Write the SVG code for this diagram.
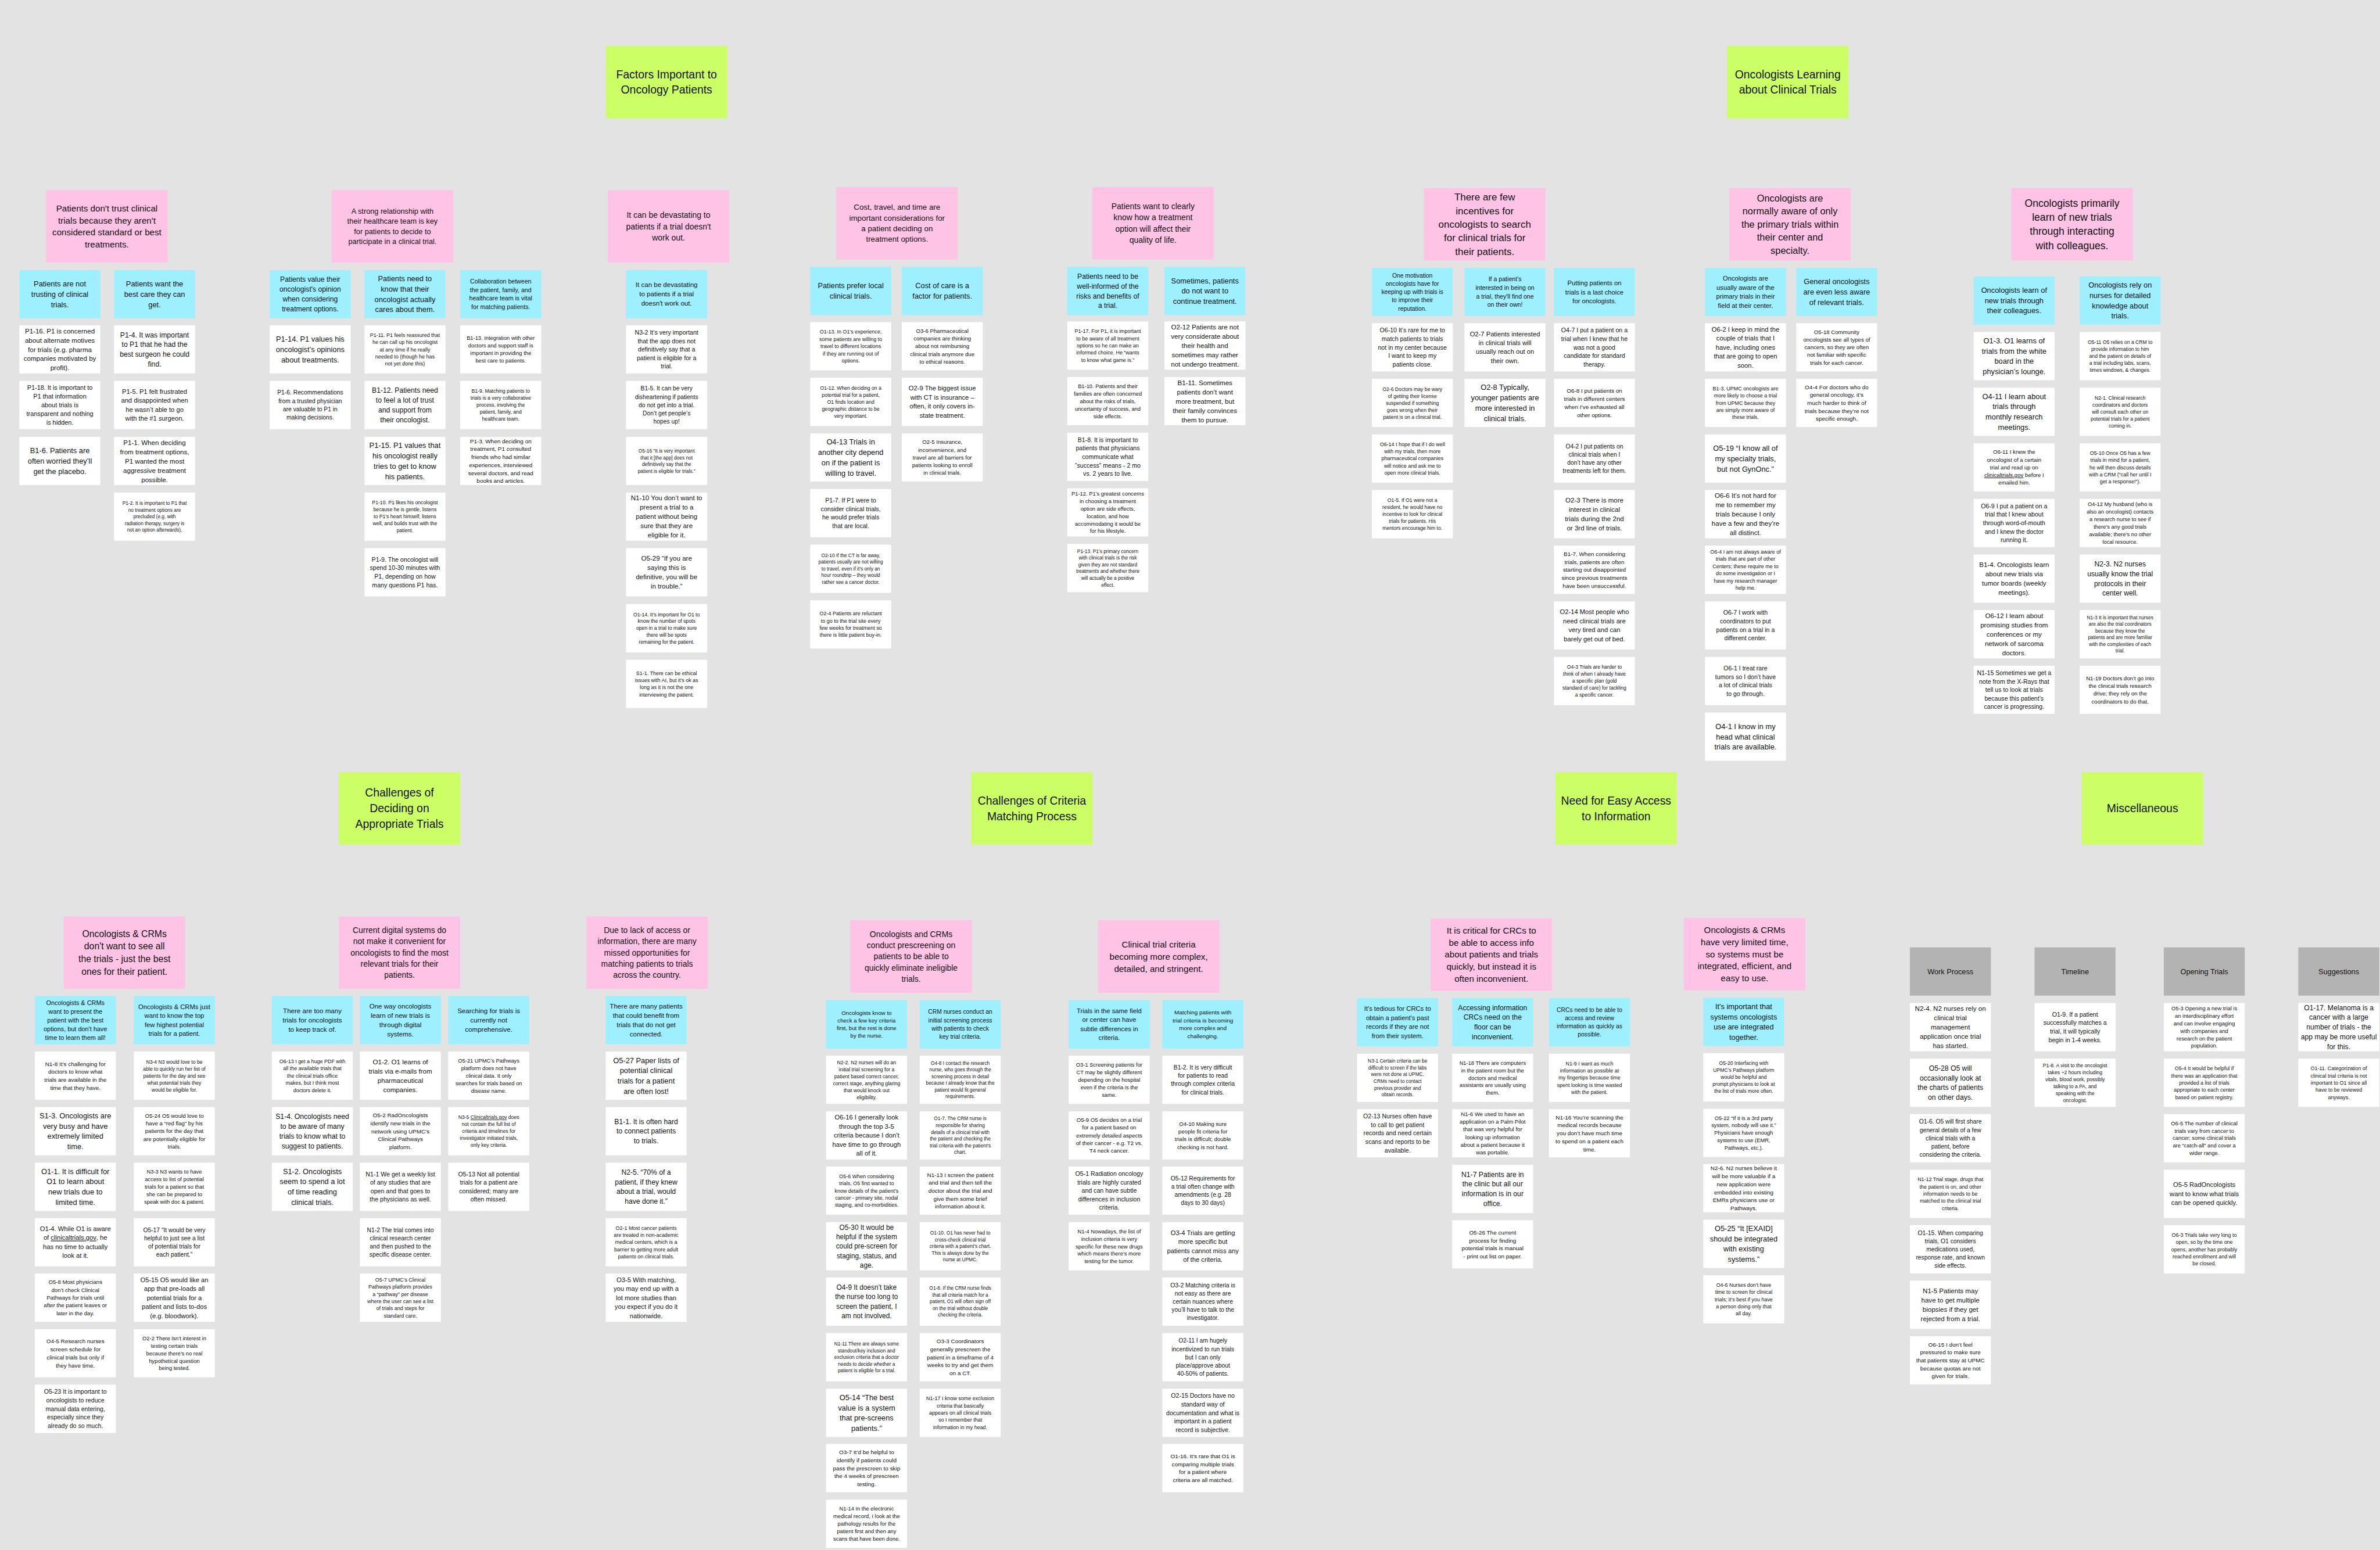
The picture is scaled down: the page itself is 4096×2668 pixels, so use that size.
<svg xmlns="http://www.w3.org/2000/svg" xmlns:xlink="http://www.w3.org/1999/xlink" width="4096" height="2668" viewBox="0 0 4096 2668">
<style>
text{font-family:"Liberation Sans",Arial,sans-serif;fill:#111;text-anchor:middle}
.s13{font-size:13.8px}.s135{font-size:14.3px}.s14{font-size:14.8px}.s145{font-size:15.4px}.s15{font-size:15.9px}.s155{font-size:16.4px}.s16{font-size:17px}.s165{font-size:17.5px}.s17{font-size:18px}.s175{font-size:18.5px}.s18{font-size:19.1px}.s185{font-size:19.6px}.s19{font-size:20.1px}.s20{font-size:21.2px}
.q20{font-size:21px}.q21{font-size:22px}.q22{font-size:23px}.q24{font-size:25px}.q25{font-size:26px}.q26{font-size:27px}.q27{font-size:28px}.q28{font-size:29px}.g{font-size:32px}.h{font-size:21px}
</style>
<defs>
<rect id="w" x="-115" y="-68.5" width="230" height="137" fill="#ffffff"/>
<rect id="b" x="-115" y="-68.5" width="230" height="137" fill="#9eefff"/>
<rect id="y" x="-115" y="-68.5" width="230" height="137" fill="#b3b3b3"/>
<rect id="p" x="-172.5" y="-103" width="345" height="206" fill="#ffc3e6"/>
<rect id="gn" x="-172.5" y="-103" width="345" height="206" fill="#ccff66"/>
</defs>
<rect x="0" y="0" width="4096" height="2668" fill="#e3e3e3"/>
<g id="connectors"/>
<g transform="scale(0.606)">

<g id="titles">
<g id="t-factors" transform="translate(1893 233)"><use href="#gn"/><text class="g"><tspan x="0" dy="-0.34em">Factors Important to</tspan><tspan x="0" dy="1.38em">Oncology Patients</tspan></text></g>
<g id="t-learning" transform="translate(5077 233)"><use href="#gn"/><text class="g"><tspan x="0" dy="-0.34em">Oncologists Learning</tspan><tspan x="0" dy="1.38em">about Clinical Trials</tspan></text></g>
<g id="t-deciding" transform="translate(1134.5 2296)"><use href="#gn"/><text class="g"><tspan x="0" dy="-1.03em">Challenges of</tspan><tspan x="0" dy="1.38em">Deciding on</tspan><tspan x="0" dy="1.38em">Appropriate Trials</tspan></text></g>
<g id="t-criteria" transform="translate(2930.5 2296)"><use href="#gn"/><text class="g"><tspan x="0" dy="-0.34em">Challenges of Criteria</tspan><tspan x="0" dy="1.38em">Matching Process</tspan></text></g>
<g id="t-access" transform="translate(4589.5 2296)"><use href="#gn"/><text class="g"><tspan x="0" dy="-0.34em">Need for Easy Access</tspan><tspan x="0" dy="1.38em">to Information</tspan></text></g>
<g id="t-misc" transform="translate(6084.5 2296)"><use href="#gn"/><text class="g"><tspan x="0" dy="0.35em">Miscellaneous</tspan></text></g>
</g>

<g id="c1">
<g id="c1-h" transform="translate(303.5 643)"><use href="#p"/><text class="q24"><tspan x="0" dy="-1.72em">Patients don't trust clinical</tspan><tspan x="0" dy="1.38em">trials because they aren't</tspan><tspan x="0" dy="1.38em">considered standard or best</tspan><tspan x="0" dy="1.38em">treatments.</tspan></text></g>
<g id="c1a" transform="translate(170 835.5)"><use href="#b"/><text class="s20"><tspan x="0" dy="-1.03em">Patients are not</tspan><tspan x="0" dy="1.38em">trusting of clinical</tspan><tspan x="0" dy="1.38em">trials.</tspan></text></g>
<g id="c1b" transform="translate(439 835.5)"><use href="#b"/><text class="s20"><tspan x="0" dy="-1.03em">Patients want the</tspan><tspan x="0" dy="1.38em">best care they can</tspan><tspan x="0" dy="1.38em">get.</tspan></text></g>
<g id="c1a1" transform="translate(170 992.5)"><use href="#w"/><text class="s18"><tspan x="0" dy="-2.41em">P1-16. P1 is concerned</tspan><tspan x="0" dy="1.38em">about alternate motives</tspan><tspan x="0" dy="1.38em">for trials (e.g. pharma</tspan><tspan x="0" dy="1.38em">companies motivated by</tspan><tspan x="0" dy="1.38em">profit).</tspan></text></g>
<g id="c1a2" transform="translate(170 1150.5)"><use href="#w"/><text class="s17"><tspan x="0" dy="-2.41em">P1-18. It is important to</tspan><tspan x="0" dy="1.38em">P1 that information</tspan><tspan x="0" dy="1.38em">about trials is</tspan><tspan x="0" dy="1.38em">transparent and nothing</tspan><tspan x="0" dy="1.38em">is hidden.</tspan></text></g>
<g id="c1a3" transform="translate(170 1309.5)"><use href="#w"/><text class="s20"><tspan x="0" dy="-1.03em">B1-6. Patients are</tspan><tspan x="0" dy="1.38em">often worried they’ll</tspan><tspan x="0" dy="1.38em">get the placebo.</tspan></text></g>
<g id="c1b1" transform="translate(439 992.5)"><use href="#w"/><text class="s19"><tspan x="0" dy="-1.72em">P1-4. It was important</tspan><tspan x="0" dy="1.38em">to P1 that he had the</tspan><tspan x="0" dy="1.38em">best surgeon he could</tspan><tspan x="0" dy="1.38em">find.</tspan></text></g>
<g id="c1b2" transform="translate(439 1150.5)"><use href="#w"/><text class="s175"><tspan x="0" dy="-1.72em">P1-5. P1 felt frustrated</tspan><tspan x="0" dy="1.38em">and disappointed when</tspan><tspan x="0" dy="1.38em">he wasn’t able to go</tspan><tspan x="0" dy="1.38em">with the #1 surgeon.</tspan></text></g>
<g id="c1b3" transform="translate(439 1309.5)"><use href="#w"/><text class="s18"><tspan x="0" dy="-2.41em">P1-1. When deciding</tspan><tspan x="0" dy="1.38em">from treatment options,</tspan><tspan x="0" dy="1.38em">P1 wanted the most</tspan><tspan x="0" dy="1.38em">aggressive treatment</tspan><tspan x="0" dy="1.38em">possible.</tspan></text></g>
<g id="c1b4" transform="translate(439 1467.5)"><use href="#w"/><text class="s13"><tspan x="0" dy="-2.41em">P1-2. It is important to P1 that</tspan><tspan x="0" dy="1.38em">no treatment options are</tspan><tspan x="0" dy="1.38em">precluded (e.g. with</tspan><tspan x="0" dy="1.38em">radiation therapy, surgery is</tspan><tspan x="0" dy="1.38em">not an option afterwards).</tspan></text></g>
</g>

<g id="c2">
<g id="c2-h" transform="translate(1114.5 643)"><use href="#p"/><text class="q20"><tspan x="0" dy="-1.72em">A strong relationship with</tspan><tspan x="0" dy="1.38em">their healthcare team is key</tspan><tspan x="0" dy="1.38em">for patients to decide to</tspan><tspan x="0" dy="1.38em">participate in a clinical trial.</tspan></text></g>
<g id="c2a" transform="translate(881 835.5)"><use href="#b"/><text class="s19"><tspan x="0" dy="-1.72em">Patients value their</tspan><tspan x="0" dy="1.38em">oncologist's opinion</tspan><tspan x="0" dy="1.38em">when considering</tspan><tspan x="0" dy="1.38em">treatment options.</tspan></text></g>
<g id="c2b" transform="translate(1150 835.5)"><use href="#b"/><text class="s20"><tspan x="0" dy="-1.72em">Patients need to</tspan><tspan x="0" dy="1.38em">know that their</tspan><tspan x="0" dy="1.38em">oncologist actually</tspan><tspan x="0" dy="1.38em">cares about them.</tspan></text></g>
<g id="c2c" transform="translate(1422 835.5)"><use href="#b"/><text class="s165"><tspan x="0" dy="-1.72em">Collaboration between</tspan><tspan x="0" dy="1.38em">the patient, family, and</tspan><tspan x="0" dy="1.38em">healthcare team is vital</tspan><tspan x="0" dy="1.38em">for matching patients.</tspan></text></g>
<g id="c2a1" transform="translate(881 992.5)"><use href="#w"/><text class="s20"><tspan x="0" dy="-1.03em">P1-14. P1 values his</tspan><tspan x="0" dy="1.38em">oncologist’s opinions</tspan><tspan x="0" dy="1.38em">about treatments.</tspan></text></g>
<g id="c2a2" transform="translate(881 1150.5)"><use href="#w"/><text class="s16"><tspan x="0" dy="-1.72em">P1-6. Recommendations</tspan><tspan x="0" dy="1.38em">from a trusted physician</tspan><tspan x="0" dy="1.38em">are valuable to P1 in</tspan><tspan x="0" dy="1.38em">making decisions.</tspan></text></g>
<g id="c2b1" transform="translate(1150 992.5)"><use href="#w"/><text class="s14"><tspan x="0" dy="-2.41em">P1-11. P1 feels reassured that</tspan><tspan x="0" dy="1.38em">he can call up his oncologist</tspan><tspan x="0" dy="1.38em">at any time if he really</tspan><tspan x="0" dy="1.38em">needed to (though he has</tspan><tspan x="0" dy="1.38em">not yet done this)</tspan></text></g>
<g id="c2b2" transform="translate(1150 1150.5)"><use href="#w"/><text class="s19"><tspan x="0" dy="-1.72em">B1-12. Patients need</tspan><tspan x="0" dy="1.38em">to feel a lot of trust</tspan><tspan x="0" dy="1.38em">and support from</tspan><tspan x="0" dy="1.38em">their oncologist.</tspan></text></g>
<g id="c2b3" transform="translate(1150 1309.5)"><use href="#w"/><text class="s20"><tspan x="0" dy="-1.72em">P1-15. P1 values that</tspan><tspan x="0" dy="1.38em">his oncologist really</tspan><tspan x="0" dy="1.38em">tries to get to know</tspan><tspan x="0" dy="1.38em">his patients.</tspan></text></g>
<g id="c2b4" transform="translate(1150 1467.5)"><use href="#w"/><text class="s135"><tspan x="0" dy="-2.41em">P1-10. P1 likes his oncologist</tspan><tspan x="0" dy="1.38em">because he is gentle, listens</tspan><tspan x="0" dy="1.38em">to P1’s heart himself, listens</tspan><tspan x="0" dy="1.38em">well, and builds trust with the</tspan><tspan x="0" dy="1.38em">patient.</tspan></text></g>
<g id="c2b5" transform="translate(1150 1625.5)"><use href="#w"/><text class="s165"><tspan x="0" dy="-1.72em">P1-9. The oncologist will</tspan><tspan x="0" dy="1.38em">spend 10-30 minutes with</tspan><tspan x="0" dy="1.38em">P1, depending on how</tspan><tspan x="0" dy="1.38em">many questions P1 has.</tspan></text></g>
<g id="c2c1" transform="translate(1422 992.5)"><use href="#w"/><text class="s145"><tspan x="0" dy="-1.72em">B1-13. Integration with other</tspan><tspan x="0" dy="1.38em">doctors and support staff is</tspan><tspan x="0" dy="1.38em">important in providing the</tspan><tspan x="0" dy="1.38em">best care to patients.</tspan></text></g>
<g id="c2c2" transform="translate(1422 1150.5)"><use href="#w"/><text class="s135"><tspan x="0" dy="-2.41em">B1-9. Matching patients to</tspan><tspan x="0" dy="1.38em">trials is a very collaborative</tspan><tspan x="0" dy="1.38em">process, involving the</tspan><tspan x="0" dy="1.38em">patient, family, and</tspan><tspan x="0" dy="1.38em">healthcare team.</tspan></text></g>
<g id="c2c3" transform="translate(1422 1309.5)"><use href="#w"/><text class="s155"><tspan x="0" dy="-3.1em">P1-3. When deciding on</tspan><tspan x="0" dy="1.38em">treatment, P1 consulted</tspan><tspan x="0" dy="1.38em">friends who had similar</tspan><tspan x="0" dy="1.38em">experiences, interviewed</tspan><tspan x="0" dy="1.38em">several doctors, and read</tspan><tspan x="0" dy="1.38em">books and articles.</tspan></text></g>
</g>

<g id="c3">
<g id="c3-h" transform="translate(1898.5 643)"><use href="#p"/><text class="q22"><tspan x="0" dy="-1.03em">It can be devastating to</tspan><tspan x="0" dy="1.38em">patients if a trial doesn't</tspan><tspan x="0" dy="1.38em">work out.</tspan></text></g>
<g id="c3a" transform="translate(1893 835.5)"><use href="#b"/><text class="s18"><tspan x="0" dy="-1.03em">It can be devastating</tspan><tspan x="0" dy="1.38em">to patients if a trial</tspan><tspan x="0" dy="1.38em">doesn't work out.</tspan></text></g>
<g id="c3a1" transform="translate(1893 992.5)"><use href="#w"/><text class="s165"><tspan x="0" dy="-2.41em">N3-2 It’s very important</tspan><tspan x="0" dy="1.38em">that the app does not</tspan><tspan x="0" dy="1.38em">definitively say that a</tspan><tspan x="0" dy="1.38em">patient is eligible for a</tspan><tspan x="0" dy="1.38em">trial.</tspan></text></g>
<g id="c3a2" transform="translate(1893 1150.5)"><use href="#w"/><text class="s16"><tspan x="0" dy="-2.41em">B1-5. It can be very</tspan><tspan x="0" dy="1.38em">disheartening if patients</tspan><tspan x="0" dy="1.38em">do not get into a trial.</tspan><tspan x="0" dy="1.38em">Don’t get people’s</tspan><tspan x="0" dy="1.38em">hopes up!</tspan></text></g>
<g id="c3a3" transform="translate(1893 1309.5)"><use href="#w"/><text class="s13"><tspan x="0" dy="-1.72em">O5-16 “It is very important</tspan><tspan x="0" dy="1.38em">that it [the app] does not</tspan><tspan x="0" dy="1.38em">definitively say that the</tspan><tspan x="0" dy="1.38em">patient is eligible for trials.”</tspan></text></g>
<g id="c3a4" transform="translate(1893 1467.5)"><use href="#w"/><text class="s18"><tspan x="0" dy="-2.41em">N1-10 You don’t want to</tspan><tspan x="0" dy="1.38em">present a trial to a</tspan><tspan x="0" dy="1.38em">patient without being</tspan><tspan x="0" dy="1.38em">sure that they are</tspan><tspan x="0" dy="1.38em">eligible for it.</tspan></text></g>
<g id="c3a5" transform="translate(1893 1625.5)"><use href="#w"/><text class="s18"><tspan x="0" dy="-1.72em">O5-29 “If you are</tspan><tspan x="0" dy="1.38em">saying this is</tspan><tspan x="0" dy="1.38em">definitive, you will be</tspan><tspan x="0" dy="1.38em">in trouble.”</tspan></text></g>
<g id="c3a6" transform="translate(1893 1784.5)"><use href="#w"/><text class="s135"><tspan x="0" dy="-2.41em">O1-14. It’s important for O1 to</tspan><tspan x="0" dy="1.38em">know the number of spots</tspan><tspan x="0" dy="1.38em">open in a trial to make sure</tspan><tspan x="0" dy="1.38em">there will be spots</tspan><tspan x="0" dy="1.38em">remaining for the patient.</tspan></text></g>
<g id="c3a7" transform="translate(1893 1942.5)"><use href="#w"/><text class="s14"><tspan x="0" dy="-1.72em">S1-1. There can be ethical</tspan><tspan x="0" dy="1.38em">issues with AI, but it’s ok as</tspan><tspan x="0" dy="1.38em">long as it is not the one</tspan><tspan x="0" dy="1.38em">interviewing the patient.</tspan></text></g>
</g>

<g id="c4">
<g id="c4-h" transform="translate(2547.5 634)"><use href="#p"/><text class="q21"><tspan x="0" dy="-1.72em">Cost, travel, and time are</tspan><tspan x="0" dy="1.38em">important considerations for</tspan><tspan x="0" dy="1.38em">a patient deciding on</tspan><tspan x="0" dy="1.38em">treatment options.</tspan></text></g>
<g id="c4a" transform="translate(2416 826.5)"><use href="#b"/><text class="s20"><tspan x="0" dy="-0.34em">Patients prefer local</tspan><tspan x="0" dy="1.38em">clinical trials.</tspan></text></g>
<g id="c4b" transform="translate(2676 826.5)"><use href="#b"/><text class="s20"><tspan x="0" dy="-0.34em">Cost of care is a</tspan><tspan x="0" dy="1.38em">factor for patients.</tspan></text></g>
<g id="c4a1" transform="translate(2416 983.5)"><use href="#w"/><text class="s14"><tspan x="0" dy="-2.41em">O1-13. In O1’s experience,</tspan><tspan x="0" dy="1.38em">some patients are willing to</tspan><tspan x="0" dy="1.38em">travel to different locations</tspan><tspan x="0" dy="1.38em">if they are running out of</tspan><tspan x="0" dy="1.38em">options.</tspan></text></g>
<g id="c4a2" transform="translate(2416 1141.5)"><use href="#w"/><text class="s135"><tspan x="0" dy="-2.41em">O1-12. When deciding on a</tspan><tspan x="0" dy="1.38em">potential trial for a patient,</tspan><tspan x="0" dy="1.38em">O1 finds location and</tspan><tspan x="0" dy="1.38em">geographic distance to be</tspan><tspan x="0" dy="1.38em">very important.</tspan></text></g>
<g id="c4a3" transform="translate(2416 1299.5)"><use href="#w"/><text class="s20"><tspan x="0" dy="-1.72em">O4-13 Trials in</tspan><tspan x="0" dy="1.38em">another city depend</tspan><tspan x="0" dy="1.38em">on if the patient is</tspan><tspan x="0" dy="1.38em">willing to travel.</tspan></text></g>
<g id="c4a4" transform="translate(2416 1457.5)"><use href="#w"/><text class="s165"><tspan x="0" dy="-1.72em">P1-7. If P1 were to</tspan><tspan x="0" dy="1.38em">consider clinical trials,</tspan><tspan x="0" dy="1.38em">he would prefer trials</tspan><tspan x="0" dy="1.38em">that are local.</tspan></text></g>
<g id="c4a5" transform="translate(2416 1615.5)"><use href="#w"/><text class="s13"><tspan x="0" dy="-2.41em">O2-10 If the CT is far away,</tspan><tspan x="0" dy="1.38em">patients usually are not willing</tspan><tspan x="0" dy="1.38em">to travel, even if it’s only an</tspan><tspan x="0" dy="1.38em">hour roundtrip – they would</tspan><tspan x="0" dy="1.38em">rather see a cancer doctor.</tspan></text></g>
<g id="c4a6" transform="translate(2416 1773.5)"><use href="#w"/><text class="s14"><tspan x="0" dy="-1.72em">O2-4 Patients are reluctant</tspan><tspan x="0" dy="1.38em">to go to the trial site every</tspan><tspan x="0" dy="1.38em">few weeks for treatment so</tspan><tspan x="0" dy="1.38em">there is little patient buy-in.</tspan></text></g>
<g id="c4b1" transform="translate(2676 983.5)"><use href="#w"/><text class="s15"><tspan x="0" dy="-2.41em">O3-6 Pharmaceutical</tspan><tspan x="0" dy="1.38em">companies are thinking</tspan><tspan x="0" dy="1.38em">about not reimbursing</tspan><tspan x="0" dy="1.38em">clinical trials anymore due</tspan><tspan x="0" dy="1.38em">to ethical reasons.</tspan></text></g>
<g id="c4b2" transform="translate(2676 1141.5)"><use href="#w"/><text class="s175"><tspan x="0" dy="-1.72em">O2-9 The biggest issue</tspan><tspan x="0" dy="1.38em">with CT is insurance –</tspan><tspan x="0" dy="1.38em">often, it only covers in-</tspan><tspan x="0" dy="1.38em">state treatment.</tspan></text></g>
<g id="c4b3" transform="translate(2676 1299.5)"><use href="#w"/><text class="s15"><tspan x="0" dy="-2.41em">O2-5 Insurance,</tspan><tspan x="0" dy="1.38em">inconvenience, and</tspan><tspan x="0" dy="1.38em">travel are all barriers for</tspan><tspan x="0" dy="1.38em">patients looking to enroll</tspan><tspan x="0" dy="1.38em">in clinical trials.</tspan></text></g>
</g>

<g id="c5">
<g id="c5-h" transform="translate(3274.5 634)"><use href="#p"/><text class="q22"><tspan x="0" dy="-1.72em">Patients want to clearly</tspan><tspan x="0" dy="1.38em">know how a treatment</tspan><tspan x="0" dy="1.38em">option will affect their</tspan><tspan x="0" dy="1.38em">quality of life.</tspan></text></g>
<g id="c5a" transform="translate(3146 826.5)"><use href="#b"/><text class="s19"><tspan x="0" dy="-1.72em">Patients need to be</tspan><tspan x="0" dy="1.38em">well-informed of the</tspan><tspan x="0" dy="1.38em">risks and benefits of</tspan><tspan x="0" dy="1.38em">a trial.</tspan></text></g>
<g id="c5b" transform="translate(3422 826.5)"><use href="#b"/><text class="s20"><tspan x="0" dy="-1.03em">Sometimes, patients</tspan><tspan x="0" dy="1.38em">do not want to</tspan><tspan x="0" dy="1.38em">continue treatment.</tspan></text></g>
<g id="c5a1" transform="translate(3146 981.5)"><use href="#w"/><text class="s14"><tspan x="0" dy="-2.41em">P1-17. For P1, it is important</tspan><tspan x="0" dy="1.38em">to be aware of all treatment</tspan><tspan x="0" dy="1.38em">options so he can make an</tspan><tspan x="0" dy="1.38em">informed choice. He “wants</tspan><tspan x="0" dy="1.38em">to know what game is.”</tspan></text></g>
<g id="c5a2" transform="translate(3146 1139.5)"><use href="#w"/><text class="s145"><tspan x="0" dy="-2.41em">B1-10. Patients and their</tspan><tspan x="0" dy="1.38em">families are often concerned</tspan><tspan x="0" dy="1.38em">about the risks of trials,</tspan><tspan x="0" dy="1.38em">uncertainty of success, and</tspan><tspan x="0" dy="1.38em">side effects.</tspan></text></g>
<g id="c5a3" transform="translate(3146 1297.5)"><use href="#w"/><text class="s165"><tspan x="0" dy="-2.41em">B1-8. It is important to</tspan><tspan x="0" dy="1.38em">patients that physicians</tspan><tspan x="0" dy="1.38em">communicate what</tspan><tspan x="0" dy="1.38em">“success” means - 2 mo</tspan><tspan x="0" dy="1.38em">vs. 2 years to live.</tspan></text></g>
<g id="c5a4" transform="translate(3146 1455.5)"><use href="#w"/><text class="s145"><tspan x="0" dy="-3.1em">P1-12. P1’s greatest concerns</tspan><tspan x="0" dy="1.38em">in choosing a treatment</tspan><tspan x="0" dy="1.38em">option are side effects,</tspan><tspan x="0" dy="1.38em">location, and how</tspan><tspan x="0" dy="1.38em">accommodating it would be</tspan><tspan x="0" dy="1.38em">for his lifestyle.</tspan></text></g>
<g id="c5a5" transform="translate(3146 1613.5)"><use href="#w"/><text class="s13"><tspan x="0" dy="-3.1em">P1-13. P1’s primary concern</tspan><tspan x="0" dy="1.38em">with clinical trials is the risk</tspan><tspan x="0" dy="1.38em">given they are not standard</tspan><tspan x="0" dy="1.38em">treatments and whether there</tspan><tspan x="0" dy="1.38em">will actually be a positive</tspan><tspan x="0" dy="1.38em">effect.</tspan></text></g>
<g id="c5b1" transform="translate(3422 981.5)"><use href="#w"/><text class="s18"><tspan x="0" dy="-2.41em">O2-12 Patients are not</tspan><tspan x="0" dy="1.38em">very considerate about</tspan><tspan x="0" dy="1.38em">their health and</tspan><tspan x="0" dy="1.38em">sometimes may rather</tspan><tspan x="0" dy="1.38em">not undergo treatment.</tspan></text></g>
<g id="c5b2" transform="translate(3422 1139.5)"><use href="#w"/><text class="s18"><tspan x="0" dy="-2.41em">B1-11. Sometimes</tspan><tspan x="0" dy="1.38em">patients don’t want</tspan><tspan x="0" dy="1.38em">more treatment, but</tspan><tspan x="0" dy="1.38em">their family convinces</tspan><tspan x="0" dy="1.38em">them to pursue.</tspan></text></g>
</g>

<g id="c6">
<g id="c6-h" transform="translate(4216.5 637)"><use href="#p"/><text class="q27"><tspan x="0" dy="-2.41em">There are few</tspan><tspan x="0" dy="1.38em">incentives for</tspan><tspan x="0" dy="1.38em">oncologists to search</tspan><tspan x="0" dy="1.38em">for clinical trials for</tspan><tspan x="0" dy="1.38em">their patients.</tspan></text></g>
<g id="c6a" transform="translate(4011 829.5)"><use href="#b"/><text class="s16"><tspan x="0" dy="-2.41em">One motivation</tspan><tspan x="0" dy="1.38em">oncologists have for</tspan><tspan x="0" dy="1.38em">keeping up with trials is</tspan><tspan x="0" dy="1.38em">to improve their</tspan><tspan x="0" dy="1.38em">reputation.</tspan></text></g>
<g id="c6b" transform="translate(4274 829.5)"><use href="#b"/><text class="s165"><tspan x="0" dy="-1.72em">If a patient's</tspan><tspan x="0" dy="1.38em">interested in being on</tspan><tspan x="0" dy="1.38em">a trial, they'll find one</tspan><tspan x="0" dy="1.38em">on their own!</tspan></text></g>
<g id="c6c" transform="translate(4528 829.5)"><use href="#b"/><text class="s175"><tspan x="0" dy="-1.03em">Putting patients on</tspan><tspan x="0" dy="1.38em">trials is a last choice</tspan><tspan x="0" dy="1.38em">for oncologists.</tspan></text></g>
<g id="c6a1" transform="translate(4011 986.5)"><use href="#w"/><text class="s165"><tspan x="0" dy="-2.41em">O6-10 It’s rare for me to</tspan><tspan x="0" dy="1.38em">match patients to trials</tspan><tspan x="0" dy="1.38em">not in my center because</tspan><tspan x="0" dy="1.38em">I want to keep my</tspan><tspan x="0" dy="1.38em">patients close.</tspan></text></g>
<g id="c6a2" transform="translate(4011 1144.5)"><use href="#w"/><text class="s135"><tspan x="0" dy="-2.41em">O2-6 Doctors may be wary</tspan><tspan x="0" dy="1.38em">of getting their license</tspan><tspan x="0" dy="1.38em">suspended if something</tspan><tspan x="0" dy="1.38em">goes wrong when their</tspan><tspan x="0" dy="1.38em">patient is on a clinical trial.</tspan></text></g>
<g id="c6a3" transform="translate(4011 1302.5)"><use href="#w"/><text class="s14"><tspan x="0" dy="-2.41em">O6-14 I hope that if I do well</tspan><tspan x="0" dy="1.38em">with my trials, then more</tspan><tspan x="0" dy="1.38em">pharmaceutical companies</tspan><tspan x="0" dy="1.38em">will notice and ask me to</tspan><tspan x="0" dy="1.38em">open more clinical trials.</tspan></text></g>
<g id="c6a4" transform="translate(4011 1460.5)"><use href="#w"/><text class="s135"><tspan x="0" dy="-2.41em">O1-5. If O1 were not a</tspan><tspan x="0" dy="1.38em">resident, he would have no</tspan><tspan x="0" dy="1.38em">incentive to look for clinical</tspan><tspan x="0" dy="1.38em">trials for patients. His</tspan><tspan x="0" dy="1.38em">mentors encourage him to.</tspan></text></g>
<g id="c6b1" transform="translate(4274 986.5)"><use href="#w"/><text class="s175"><tspan x="0" dy="-1.72em">O2-7 Patients interested</tspan><tspan x="0" dy="1.38em">in clinical trials will</tspan><tspan x="0" dy="1.38em">usually reach out on</tspan><tspan x="0" dy="1.38em">their own.</tspan></text></g>
<g id="c6b2" transform="translate(4274 1144.5)"><use href="#w"/><text class="s20"><tspan x="0" dy="-1.72em">O2-8 Typically,</tspan><tspan x="0" dy="1.38em">younger patients are</tspan><tspan x="0" dy="1.38em">more interested in</tspan><tspan x="0" dy="1.38em">clinical trials.</tspan></text></g>
<g id="c6c1" transform="translate(4528 986.5)"><use href="#w"/><text class="s165"><tspan x="0" dy="-2.41em">O4-7 I put a patient on a</tspan><tspan x="0" dy="1.38em">trial when I knew that he</tspan><tspan x="0" dy="1.38em">was not a good</tspan><tspan x="0" dy="1.38em">candidate for standard</tspan><tspan x="0" dy="1.38em">therapy.</tspan></text></g>
<g id="c6c2" transform="translate(4528 1144.5)"><use href="#w"/><text class="s155"><tspan x="0" dy="-1.72em">O6-8 I put patients on</tspan><tspan x="0" dy="1.38em">trials in different centers</tspan><tspan x="0" dy="1.38em">when I’ve exhausted all</tspan><tspan x="0" dy="1.38em">other options.</tspan></text></g>
<g id="c6c3" transform="translate(4528 1302.5)"><use href="#w"/><text class="s16"><tspan x="0" dy="-1.72em">O4-2 I put patients on</tspan><tspan x="0" dy="1.38em">clinical trials when I</tspan><tspan x="0" dy="1.38em">don’t have any other</tspan><tspan x="0" dy="1.38em">treatments left for them.</tspan></text></g>
<g id="c6c4" transform="translate(4528 1460.5)"><use href="#w"/><text class="s18"><tspan x="0" dy="-1.72em">O2-3 There is more</tspan><tspan x="0" dy="1.38em">interest in clinical</tspan><tspan x="0" dy="1.38em">trials during the 2nd</tspan><tspan x="0" dy="1.38em">or 3rd line of trials.</tspan></text></g>
<g id="c6c5" transform="translate(4528 1618.5)"><use href="#w"/><text class="s155"><tspan x="0" dy="-2.41em">B1-7. When considering</tspan><tspan x="0" dy="1.38em">trials, patients are often</tspan><tspan x="0" dy="1.38em">starting out disappointed</tspan><tspan x="0" dy="1.38em">since previous treatments</tspan><tspan x="0" dy="1.38em">have been unsuccessful.</tspan></text></g>
<g id="c6c6" transform="translate(4528 1776.5)"><use href="#w"/><text class="s175"><tspan x="0" dy="-1.72em">O2-14 Most people who</tspan><tspan x="0" dy="1.38em">need clinical trials are</tspan><tspan x="0" dy="1.38em">very tired and can</tspan><tspan x="0" dy="1.38em">barely get out of bed.</tspan></text></g>
<g id="c6c7" transform="translate(4528 1934.5)"><use href="#w"/><text class="s135"><tspan x="0" dy="-2.41em">O4-3 Trials are harder to</tspan><tspan x="0" dy="1.38em">think of when I already have</tspan><tspan x="0" dy="1.38em">a specific plan (gold</tspan><tspan x="0" dy="1.38em">standard of care) for tackling</tspan><tspan x="0" dy="1.38em">a specific cancer.</tspan></text></g>
</g>

<g id="c7">
<g id="c7-h" transform="translate(5083.5 637)"><use href="#p"/><text class="q26"><tspan x="0" dy="-2.41em">Oncologists are</tspan><tspan x="0" dy="1.38em">normally aware of only</tspan><tspan x="0" dy="1.38em">the primary trials within</tspan><tspan x="0" dy="1.38em">their center and</tspan><tspan x="0" dy="1.38em">specialty.</tspan></text></g>
<g id="c7a" transform="translate(4957 829.5)"><use href="#b"/><text class="s175"><tspan x="0" dy="-1.72em">Oncologists are</tspan><tspan x="0" dy="1.38em">usually aware of the</tspan><tspan x="0" dy="1.38em">primary trials in their</tspan><tspan x="0" dy="1.38em">field at their center.</tspan></text></g>
<g id="c7b" transform="translate(5216 829.5)"><use href="#b"/><text class="s20"><tspan x="0" dy="-1.03em">General oncologists</tspan><tspan x="0" dy="1.38em">are even less aware</tspan><tspan x="0" dy="1.38em">of relevant trials.</tspan></text></g>
<g id="c7a1" transform="translate(4957 986.5)"><use href="#w"/><text class="s175"><tspan x="0" dy="-2.41em">O6-2 I keep in mind the</tspan><tspan x="0" dy="1.38em">couple of trials that I</tspan><tspan x="0" dy="1.38em">have, including ones</tspan><tspan x="0" dy="1.38em">that are going to open</tspan><tspan x="0" dy="1.38em">soon.</tspan></text></g>
<g id="c7a2" transform="translate(4957 1144.5)"><use href="#w"/><text class="s14"><tspan x="0" dy="-2.41em">B1-3. UPMC oncologists are</tspan><tspan x="0" dy="1.38em">more likely to choose a trial</tspan><tspan x="0" dy="1.38em">from UPMC because they</tspan><tspan x="0" dy="1.38em">are simply more aware of</tspan><tspan x="0" dy="1.38em">these trials.</tspan></text></g>
<g id="c7a3" transform="translate(4957 1302.5)"><use href="#w"/><text class="s20"><tspan x="0" dy="-1.03em">O5-19 “I know all of</tspan><tspan x="0" dy="1.38em">my specialty trials,</tspan><tspan x="0" dy="1.38em">but not GynOnc.”</tspan></text></g>
<g id="c7a4" transform="translate(4957 1460.5)"><use href="#w"/><text class="s18"><tspan x="0" dy="-2.41em">O6-6 It’s not hard for</tspan><tspan x="0" dy="1.38em">me to remember my</tspan><tspan x="0" dy="1.38em">trials because I only</tspan><tspan x="0" dy="1.38em">have a few and they’re</tspan><tspan x="0" dy="1.38em">all distinct.</tspan></text></g>
<g id="c7a5" transform="translate(4957 1618.5)"><use href="#w"/><text class="s14"><tspan x="0" dy="-3.1em">O6-4 I am not always aware of</tspan><tspan x="0" dy="1.38em">trials that are part of other</tspan><tspan x="0" dy="1.38em">Centers; these require me to</tspan><tspan x="0" dy="1.38em">do some investigation or I</tspan><tspan x="0" dy="1.38em">have my research manager</tspan><tspan x="0" dy="1.38em">help me.</tspan></text></g>
<g id="c7a6" transform="translate(4957 1776.5)"><use href="#w"/><text class="s165"><tspan x="0" dy="-1.72em">O6-7 I work with</tspan><tspan x="0" dy="1.38em">coordinators to put</tspan><tspan x="0" dy="1.38em">patients on a trial in a</tspan><tspan x="0" dy="1.38em">different center.</tspan></text></g>
<g id="c7a7" transform="translate(4957 1934.5)"><use href="#w"/><text class="s165"><tspan x="0" dy="-1.72em">O6-1 I treat rare</tspan><tspan x="0" dy="1.38em">tumors so I don’t have</tspan><tspan x="0" dy="1.38em">a lot of clinical trials</tspan><tspan x="0" dy="1.38em">to go through.</tspan></text></g>
<g id="c7a8" transform="translate(4957 2092.5)"><use href="#w"/><text class="s20"><tspan x="0" dy="-1.03em">O4-1 I know in my</tspan><tspan x="0" dy="1.38em">head what clinical</tspan><tspan x="0" dy="1.38em">trials are available.</tspan></text></g>
<g id="c7b1" transform="translate(5216 986.5)"><use href="#w"/><text class="s15"><tspan x="0" dy="-2.41em">O5-18 Community</tspan><tspan x="0" dy="1.38em">oncologists see all types of</tspan><tspan x="0" dy="1.38em">cancers, so they are often</tspan><tspan x="0" dy="1.38em">not familiar with specific</tspan><tspan x="0" dy="1.38em">trials for each cancer.</tspan></text></g>
<g id="c7b2" transform="translate(5216 1144.5)"><use href="#w"/><text class="s155"><tspan x="0" dy="-2.41em">O4-4 For doctors who do</tspan><tspan x="0" dy="1.38em">general oncology, it’s</tspan><tspan x="0" dy="1.38em">much harder to think of</tspan><tspan x="0" dy="1.38em">trials because they’re not</tspan><tspan x="0" dy="1.38em">specific enough.</tspan></text></g>
</g>

<g id="c8">
<g id="c8-h" transform="translate(5884.5 637)"><use href="#p"/><text class="q28"><tspan x="0" dy="-1.72em">Oncologists primarily</tspan><tspan x="0" dy="1.38em">learn of new trials</tspan><tspan x="0" dy="1.38em">through interacting</tspan><tspan x="0" dy="1.38em">with colleagues.</tspan></text></g>
<g id="c8a" transform="translate(5720 853.5)"><use href="#b"/><text class="s20"><tspan x="0" dy="-1.03em">Oncologists learn of</tspan><tspan x="0" dy="1.38em">new trials through</tspan><tspan x="0" dy="1.38em">their colleagues.</tspan></text></g>
<g id="c8b" transform="translate(6021 853.5)"><use href="#b"/><text class="s20"><tspan x="0" dy="-1.72em">Oncologists rely on</tspan><tspan x="0" dy="1.38em">nurses for detailed</tspan><tspan x="0" dy="1.38em">knowledge about</tspan><tspan x="0" dy="1.38em">trials.</tspan></text></g>
<g id="c8a1" transform="translate(5720 1011.5)"><use href="#w"/><text class="s20"><tspan x="0" dy="-1.72em">O1-3. O1 learns of</tspan><tspan x="0" dy="1.38em">trials from the white</tspan><tspan x="0" dy="1.38em">board in the</tspan><tspan x="0" dy="1.38em">physician’s lounge.</tspan></text></g>
<g id="c8a2" transform="translate(5720 1169.5)"><use href="#w"/><text class="s20"><tspan x="0" dy="-1.72em">O4-11 I learn about</tspan><tspan x="0" dy="1.38em">trials through</tspan><tspan x="0" dy="1.38em">monthly research</tspan><tspan x="0" dy="1.38em">meetings.</tspan></text></g>
<g id="c8a3" transform="translate(5720 1327.5)"><use href="#w"/><text class="s15"><tspan x="0" dy="-2.41em">O6-11 I knew the</tspan><tspan x="0" dy="1.38em">oncologist of a certain</tspan><tspan x="0" dy="1.38em">trial and read up on</tspan><tspan x="0" dy="1.38em"><tspan text-decoration="underline">clinicaltrials.gov</tspan> before I</tspan><tspan x="0" dy="1.38em">emailed him.</tspan></text></g>
<g id="c8a4" transform="translate(5720 1485.5)"><use href="#w"/><text class="s165"><tspan x="0" dy="-2.41em">O6-9 I put a patient on a</tspan><tspan x="0" dy="1.38em">trial that I knew about</tspan><tspan x="0" dy="1.38em">through word-of-mouth</tspan><tspan x="0" dy="1.38em">and I knew the doctor</tspan><tspan x="0" dy="1.38em">running it.</tspan></text></g>
<g id="c8a5" transform="translate(5720 1643.5)"><use href="#w"/><text class="s18"><tspan x="0" dy="-1.72em">B1-4. Oncologists learn</tspan><tspan x="0" dy="1.38em">about new trials via</tspan><tspan x="0" dy="1.38em">tumor boards (weekly</tspan><tspan x="0" dy="1.38em">meetings).</tspan></text></g>
<g id="c8a6" transform="translate(5720 1801.5)"><use href="#w"/><text class="s18"><tspan x="0" dy="-2.41em">O6-12 I learn about</tspan><tspan x="0" dy="1.38em">promising studies from</tspan><tspan x="0" dy="1.38em">conferences or my</tspan><tspan x="0" dy="1.38em">network of sarcoma</tspan><tspan x="0" dy="1.38em">doctors.</tspan></text></g>
<g id="c8a7" transform="translate(5720 1959.5)"><use href="#w"/><text class="s165"><tspan x="0" dy="-2.41em">N1-15 Sometimes we get a</tspan><tspan x="0" dy="1.38em">note from the X-Rays that</tspan><tspan x="0" dy="1.38em">tell us to look at trials</tspan><tspan x="0" dy="1.38em">because this patient’s</tspan><tspan x="0" dy="1.38em">cancer is progressing.</tspan></text></g>
<g id="c8b1" transform="translate(6021 1011.5)"><use href="#w"/><text class="s135"><tspan x="0" dy="-2.41em">O5-11 O5 relies on a CRM to</tspan><tspan x="0" dy="1.38em">provide information to him</tspan><tspan x="0" dy="1.38em">and the patient on details of</tspan><tspan x="0" dy="1.38em">a trial including labs, scans,</tspan><tspan x="0" dy="1.38em">times windows, &amp; changes.</tspan></text></g>
<g id="c8b2" transform="translate(6021 1169.5)"><use href="#w"/><text class="s135"><tspan x="0" dy="-2.41em">N2-1. Clinical research</tspan><tspan x="0" dy="1.38em">coordinators and doctors</tspan><tspan x="0" dy="1.38em">will consult each other on</tspan><tspan x="0" dy="1.38em">potential trials for a patient</tspan><tspan x="0" dy="1.38em">coming in.</tspan></text></g>
<g id="c8b3" transform="translate(6021 1327.5)"><use href="#w"/><text class="s14"><tspan x="0" dy="-2.41em">O5-10 Once O5 has a few</tspan><tspan x="0" dy="1.38em">trials in mind for a patient,</tspan><tspan x="0" dy="1.38em">he will then discuss details</tspan><tspan x="0" dy="1.38em">with a CRM (“call her until I</tspan><tspan x="0" dy="1.38em">get a response!”).</tspan></text></g>
<g id="c8b4" transform="translate(6021 1485.5)"><use href="#w"/><text class="s145"><tspan x="0" dy="-3.1em">O4-12 My husband (who is</tspan><tspan x="0" dy="1.38em">also an oncologist) contacts</tspan><tspan x="0" dy="1.38em">a research nurse to see if</tspan><tspan x="0" dy="1.38em">there’s any good trials</tspan><tspan x="0" dy="1.38em">available; there’s no other</tspan><tspan x="0" dy="1.38em">local resource.</tspan></text></g>
<g id="c8b5" transform="translate(6021 1643.5)"><use href="#w"/><text class="s19"><tspan x="0" dy="-1.72em">N2-3. N2 nurses</tspan><tspan x="0" dy="1.38em">usually know the trial</tspan><tspan x="0" dy="1.38em">protocols in their</tspan><tspan x="0" dy="1.38em">center well.</tspan></text></g>
<g id="c8b6" transform="translate(6021 1801.5)"><use href="#w"/><text class="s13"><tspan x="0" dy="-3.1em">N1-3 It is important that nurses</tspan><tspan x="0" dy="1.38em">are also the trial coordinators</tspan><tspan x="0" dy="1.38em">because they know the</tspan><tspan x="0" dy="1.38em">patients and are more familiar</tspan><tspan x="0" dy="1.38em">with the complexities of each</tspan><tspan x="0" dy="1.38em">trial.</tspan></text></g>
<g id="c8b7" transform="translate(6021 1959.5)"><use href="#w"/><text class="s15"><tspan x="0" dy="-1.72em">N1-19 Doctors don’t go into</tspan><tspan x="0" dy="1.38em">the clinical trials research</tspan><tspan x="0" dy="1.38em">drive; they rely on the</tspan><tspan x="0" dy="1.38em">coordinators to do that.</tspan></text></g>
</g>

<g id="b1">
<g id="b1-h" transform="translate(353.5 2706)"><use href="#p"/><text class="q25"><tspan x="0" dy="-1.72em">Oncologists &amp; CRMs</tspan><tspan x="0" dy="1.38em">don't want to see all</tspan><tspan x="0" dy="1.38em">the trials - just the best</tspan><tspan x="0" dy="1.38em">ones for their patient.</tspan></text></g>
<g id="b1a" transform="translate(214 2897.5)"><use href="#b"/><text class="s17"><tspan x="0" dy="-2.41em">Oncologists &amp; CRMs</tspan><tspan x="0" dy="1.38em">want to present the</tspan><tspan x="0" dy="1.38em">patient with the best</tspan><tspan x="0" dy="1.38em">options, but don't have</tspan><tspan x="0" dy="1.38em">time to learn them all!</tspan></text></g>
<g id="b1b" transform="translate(495 2897.5)"><use href="#b"/><text class="s175"><tspan x="0" dy="-1.72em">Oncologists &amp; CRMs just</tspan><tspan x="0" dy="1.38em">want to know the top</tspan><tspan x="0" dy="1.38em">few highest potential</tspan><tspan x="0" dy="1.38em">trials for a patient.</tspan></text></g>
<g id="b1a1" transform="translate(214 3055.5)"><use href="#w"/><text class="s155"><tspan x="0" dy="-1.72em">N1-8 It’s challenging for</tspan><tspan x="0" dy="1.38em">doctors to know what</tspan><tspan x="0" dy="1.38em">trials are available in the</tspan><tspan x="0" dy="1.38em">time that they have.</tspan></text></g>
<g id="b1a2" transform="translate(214 3213)"><use href="#w"/><text class="s20"><tspan x="0" dy="-1.72em">S1-3. Oncologists are</tspan><tspan x="0" dy="1.38em">very busy and have</tspan><tspan x="0" dy="1.38em">extremely limited</tspan><tspan x="0" dy="1.38em">time.</tspan></text></g>
<g id="b1a3" transform="translate(214 3371)"><use href="#w"/><text class="s20"><tspan x="0" dy="-1.72em">O1-1. It is difficult for</tspan><tspan x="0" dy="1.38em">O1 to learn about</tspan><tspan x="0" dy="1.38em">new trials due to</tspan><tspan x="0" dy="1.38em">limited time.</tspan></text></g>
<g id="b1a4" transform="translate(214 3528.5)"><use href="#w"/><text class="s175"><tspan x="0" dy="-1.72em">O1-4. While O1 is aware</tspan><tspan x="0" dy="1.38em">of <tspan text-decoration="underline">clinicaltrials.gov</tspan>, he</tspan><tspan x="0" dy="1.38em">has no time to actually</tspan><tspan x="0" dy="1.38em">look at it.</tspan></text></g>
<g id="b1a5" transform="translate(214 3686)"><use href="#w"/><text class="s15"><tspan x="0" dy="-2.41em">O5-8 Most physicians</tspan><tspan x="0" dy="1.38em">don’t check Clinical</tspan><tspan x="0" dy="1.38em">Pathways for trials until</tspan><tspan x="0" dy="1.38em">after the patient leaves or</tspan><tspan x="0" dy="1.38em">later in the day.</tspan></text></g>
<g id="b1a6" transform="translate(214 3844)"><use href="#w"/><text class="s155"><tspan x="0" dy="-1.72em">O4-5 Research nurses</tspan><tspan x="0" dy="1.38em">screen schedule for</tspan><tspan x="0" dy="1.38em">clinical trials but only if</tspan><tspan x="0" dy="1.38em">they have time.</tspan></text></g>
<g id="b1a7" transform="translate(214 4001.5)"><use href="#w"/><text class="s165"><tspan x="0" dy="-2.41em">O5-23 It is important to</tspan><tspan x="0" dy="1.38em">oncologists to reduce</tspan><tspan x="0" dy="1.38em">manual data entering,</tspan><tspan x="0" dy="1.38em">especially since they</tspan><tspan x="0" dy="1.38em">already do so much.</tspan></text></g>
<g id="b1b1" transform="translate(495 3055.5)"><use href="#w"/><text class="s135"><tspan x="0" dy="-2.41em">N3-4 N3 would love to be</tspan><tspan x="0" dy="1.38em">able to quickly run her list of</tspan><tspan x="0" dy="1.38em">patients for the day and see</tspan><tspan x="0" dy="1.38em">what potential trials they</tspan><tspan x="0" dy="1.38em">would be eligible for.</tspan></text></g>
<g id="b1b2" transform="translate(495 3213)"><use href="#w"/><text class="s15"><tspan x="0" dy="-2.41em">O5-24 O5 would love to</tspan><tspan x="0" dy="1.38em">have a “red flag” by his</tspan><tspan x="0" dy="1.38em">patients for the day that</tspan><tspan x="0" dy="1.38em">are potentially eligible for</tspan><tspan x="0" dy="1.38em">trials.</tspan></text></g>
<g id="b1b3" transform="translate(495 3371)"><use href="#w"/><text class="s145"><tspan x="0" dy="-2.41em">N3-3 N3 wants to have</tspan><tspan x="0" dy="1.38em">access to list of potential</tspan><tspan x="0" dy="1.38em">trials for a patient so that</tspan><tspan x="0" dy="1.38em">she can be prepared to</tspan><tspan x="0" dy="1.38em">speak with doc &amp; patient.</tspan></text></g>
<g id="b1b4" transform="translate(495 3528.5)"><use href="#w"/><text class="s16"><tspan x="0" dy="-1.72em">O5-17 “It would be very</tspan><tspan x="0" dy="1.38em">helpful to just see a list</tspan><tspan x="0" dy="1.38em">of potential trials for</tspan><tspan x="0" dy="1.38em">each patient.”</tspan></text></g>
<g id="b1b5" transform="translate(495 3686)"><use href="#w"/><text class="s175"><tspan x="0" dy="-2.41em">O5-15 O5 would like an</tspan><tspan x="0" dy="1.38em">app that pre-loads all</tspan><tspan x="0" dy="1.38em">potential trials for a</tspan><tspan x="0" dy="1.38em">patient and lists to-dos</tspan><tspan x="0" dy="1.38em">(e.g. bloodwork).</tspan></text></g>
<g id="b1b6" transform="translate(495 3844)"><use href="#w"/><text class="s145"><tspan x="0" dy="-2.41em">O2-2 There isn’t interest in</tspan><tspan x="0" dy="1.38em">testing certain trials</tspan><tspan x="0" dy="1.38em">because there’s no real</tspan><tspan x="0" dy="1.38em">hypothetical question</tspan><tspan x="0" dy="1.38em">being tested.</tspan></text></g>
</g>

<g id="b2">
<g id="b2-h" transform="translate(1134.5 2706)"><use href="#p"/><text class="q22"><tspan x="0" dy="-2.41em">Current digital systems do</tspan><tspan x="0" dy="1.38em">not make it convenient for</tspan><tspan x="0" dy="1.38em">oncologists to find the most</tspan><tspan x="0" dy="1.38em">relevant trials for their</tspan><tspan x="0" dy="1.38em">patients.</tspan></text></g>
<g id="b2a" transform="translate(887 2897.5)"><use href="#b"/><text class="s18"><tspan x="0" dy="-1.03em">There are too many</tspan><tspan x="0" dy="1.38em">trials for oncologists</tspan><tspan x="0" dy="1.38em">to keep track of.</tspan></text></g>
<g id="b2b" transform="translate(1137 2897.5)"><use href="#b"/><text class="s18"><tspan x="0" dy="-1.72em">One way oncologists</tspan><tspan x="0" dy="1.38em">learn of new trials is</tspan><tspan x="0" dy="1.38em">through digital</tspan><tspan x="0" dy="1.38em">systems.</tspan></text></g>
<g id="b2c" transform="translate(1388 2897.5)"><use href="#b"/><text class="s18"><tspan x="0" dy="-1.03em">Searching for trials is</tspan><tspan x="0" dy="1.38em">currently not</tspan><tspan x="0" dy="1.38em">comprehensive.</tspan></text></g>
<g id="b2a1" transform="translate(887 3055.5)"><use href="#w"/><text class="s14"><tspan x="0" dy="-2.41em">O6-13 I get a huge PDF with</tspan><tspan x="0" dy="1.38em">all the available trials that</tspan><tspan x="0" dy="1.38em">the clinical trials office</tspan><tspan x="0" dy="1.38em">makes, but I think most</tspan><tspan x="0" dy="1.38em">doctors delete it.</tspan></text></g>
<g id="b2a2" transform="translate(887 3213)"><use href="#w"/><text class="s19"><tspan x="0" dy="-1.72em">S1-4. Oncologists need</tspan><tspan x="0" dy="1.38em">to be aware of many</tspan><tspan x="0" dy="1.38em">trials to know what to</tspan><tspan x="0" dy="1.38em">suggest to patients.</tspan></text></g>
<g id="b2a3" transform="translate(887 3371)"><use href="#w"/><text class="s20"><tspan x="0" dy="-1.72em">S1-2. Oncologists</tspan><tspan x="0" dy="1.38em">seem to spend a lot</tspan><tspan x="0" dy="1.38em">of time reading</tspan><tspan x="0" dy="1.38em">clinical trials.</tspan></text></g>
<g id="b2b1" transform="translate(1137 3055.5)"><use href="#w"/><text class="s18"><tspan x="0" dy="-1.72em">O1-2. O1 learns of</tspan><tspan x="0" dy="1.38em">trials via e-mails from</tspan><tspan x="0" dy="1.38em">pharmaceutical</tspan><tspan x="0" dy="1.38em">companies.</tspan></text></g>
<g id="b2b2" transform="translate(1137 3213)"><use href="#w"/><text class="s155"><tspan x="0" dy="-2.41em">O5-2 RadOncologists</tspan><tspan x="0" dy="1.38em">identify new trials in the</tspan><tspan x="0" dy="1.38em">network using UPMC’s</tspan><tspan x="0" dy="1.38em">Clinical Pathways</tspan><tspan x="0" dy="1.38em">platform.</tspan></text></g>
<g id="b2b3" transform="translate(1137 3371)"><use href="#w"/><text class="s165"><tspan x="0" dy="-1.72em">N1-1 We get a weekly list</tspan><tspan x="0" dy="1.38em">of any studies that are</tspan><tspan x="0" dy="1.38em">open and that goes to</tspan><tspan x="0" dy="1.38em">the physicians as well.</tspan></text></g>
<g id="b2b4" transform="translate(1137 3528.5)"><use href="#w"/><text class="s16"><tspan x="0" dy="-1.72em">N1-2 The trial comes into</tspan><tspan x="0" dy="1.38em">clinical research center</tspan><tspan x="0" dy="1.38em">and then pushed to the</tspan><tspan x="0" dy="1.38em">specific disease center.</tspan></text></g>
<g id="b2b5" transform="translate(1137 3686)"><use href="#w"/><text class="s14"><tspan x="0" dy="-3.1em">O5-7 UPMC’s Clinical</tspan><tspan x="0" dy="1.38em">Pathways platform provides</tspan><tspan x="0" dy="1.38em">a “pathway” per disease</tspan><tspan x="0" dy="1.38em">where the user can see a list</tspan><tspan x="0" dy="1.38em">of trials and steps for</tspan><tspan x="0" dy="1.38em">standard care.</tspan></text></g>
<g id="b2c1" transform="translate(1388 3055.5)"><use href="#w"/><text class="s145"><tspan x="0" dy="-2.41em">O5-21 UPMC’s Pathways</tspan><tspan x="0" dy="1.38em">platform does not have</tspan><tspan x="0" dy="1.38em">clinical data. It only</tspan><tspan x="0" dy="1.38em">searches for trials based on</tspan><tspan x="0" dy="1.38em">disease name.</tspan></text></g>
<g id="b2c2" transform="translate(1388 3213)"><use href="#w"/><text class="s135"><tspan x="0" dy="-2.41em">N3-5 <tspan text-decoration="underline">Clinicaltrials.gov</tspan> does</tspan><tspan x="0" dy="1.38em">not contain the full list of</tspan><tspan x="0" dy="1.38em">criteria and timelines for</tspan><tspan x="0" dy="1.38em">investigator initiated trials,</tspan><tspan x="0" dy="1.38em">only key criteria.</tspan></text></g>
<g id="b2c3" transform="translate(1388 3371)"><use href="#w"/><text class="s165"><tspan x="0" dy="-1.72em">O5-13 Not all potential</tspan><tspan x="0" dy="1.38em">trials for a patient are</tspan><tspan x="0" dy="1.38em">considered; many are</tspan><tspan x="0" dy="1.38em">often missed.</tspan></text></g>
</g>

<g id="b3">
<g id="b3-h" transform="translate(1837.5 2706)"><use href="#p"/><text class="q22"><tspan x="0" dy="-2.41em">Due to lack of access or</tspan><tspan x="0" dy="1.38em">information, there are many</tspan><tspan x="0" dy="1.38em">missed opportunities for</tspan><tspan x="0" dy="1.38em">matching patients to trials</tspan><tspan x="0" dy="1.38em">across the country.</tspan></text></g>
<g id="b3a" transform="translate(1835 2897.5)"><use href="#b"/><text class="s18"><tspan x="0" dy="-1.72em">There are many patients</tspan><tspan x="0" dy="1.38em">that could benefit from</tspan><tspan x="0" dy="1.38em">trials that do not get</tspan><tspan x="0" dy="1.38em">connected.</tspan></text></g>
<g id="b3a1" transform="translate(1835 3055.5)"><use href="#w"/><text class="s20"><tspan x="0" dy="-1.72em">O5-27 Paper lists of</tspan><tspan x="0" dy="1.38em">potential clinical</tspan><tspan x="0" dy="1.38em">trials for a patient</tspan><tspan x="0" dy="1.38em">are often lost!</tspan></text></g>
<g id="b3a2" transform="translate(1835 3213)"><use href="#w"/><text class="s19"><tspan x="0" dy="-1.03em">B1-1. It is often hard</tspan><tspan x="0" dy="1.38em">to connect patients</tspan><tspan x="0" dy="1.38em">to trials.</tspan></text></g>
<g id="b3a3" transform="translate(1835 3371)"><use href="#w"/><text class="s19"><tspan x="0" dy="-1.72em">N2-5. “70% of a</tspan><tspan x="0" dy="1.38em">patient, if they knew</tspan><tspan x="0" dy="1.38em">about a trial, would</tspan><tspan x="0" dy="1.38em">have done it.”</tspan></text></g>
<g id="b3a4" transform="translate(1835 3528.5)"><use href="#w"/><text class="s14"><tspan x="0" dy="-2.41em">O2-1 Most cancer patients</tspan><tspan x="0" dy="1.38em">are treated in non-academic</tspan><tspan x="0" dy="1.38em">medical centers, which is a</tspan><tspan x="0" dy="1.38em">barrier to getting more adult</tspan><tspan x="0" dy="1.38em">patients on clinical trials.</tspan></text></g>
<g id="b3a5" transform="translate(1835 3686)"><use href="#w"/><text class="s175"><tspan x="0" dy="-2.41em">O3-5 With matching,</tspan><tspan x="0" dy="1.38em">you may end up with a</tspan><tspan x="0" dy="1.38em">lot more studies than</tspan><tspan x="0" dy="1.38em">you expect if you do it</tspan><tspan x="0" dy="1.38em">nationwide.</tspan></text></g>
</g>

<g id="b4">
<g id="b4-h" transform="translate(2587.5 2717)"><use href="#p"/><text class="q22"><tspan x="0" dy="-2.41em">Oncologists and CRMs</tspan><tspan x="0" dy="1.38em">conduct prescreening on</tspan><tspan x="0" dy="1.38em">patients to be able to</tspan><tspan x="0" dy="1.38em">quickly eliminate ineligible</tspan><tspan x="0" dy="1.38em">trials.</tspan></text></g>
<g id="b4a" transform="translate(2461 2909.5)"><use href="#b"/><text class="s15"><tspan x="0" dy="-1.72em">Oncologists know to</tspan><tspan x="0" dy="1.38em">check a few key criteria</tspan><tspan x="0" dy="1.38em">first, but the rest is done</tspan><tspan x="0" dy="1.38em">by the nurse.</tspan></text></g>
<g id="b4b" transform="translate(2727 2909.5)"><use href="#b"/><text class="s16"><tspan x="0" dy="-1.72em">CRM nurses conduct an</tspan><tspan x="0" dy="1.38em">initial screening process</tspan><tspan x="0" dy="1.38em">with patients to check</tspan><tspan x="0" dy="1.38em">key trial criteria.</tspan></text></g>
<g id="b4a1" transform="translate(2461 3067)"><use href="#w"/><text class="s135"><tspan x="0" dy="-3.1em">N2-2. N2 nurses will do an</tspan><tspan x="0" dy="1.38em">initial trial screening for a</tspan><tspan x="0" dy="1.38em">patient based correct cancer,</tspan><tspan x="0" dy="1.38em">correct stage, anything glaring</tspan><tspan x="0" dy="1.38em">that would knock out</tspan><tspan x="0" dy="1.38em">eligibility.</tspan></text></g>
<g id="b4a2" transform="translate(2461 3225)"><use href="#w"/><text class="s175"><tspan x="0" dy="-2.41em">O6-16 I generally look</tspan><tspan x="0" dy="1.38em">through the top 3-5</tspan><tspan x="0" dy="1.38em">criteria because I don’t</tspan><tspan x="0" dy="1.38em">have time to go through</tspan><tspan x="0" dy="1.38em">all of it.</tspan></text></g>
<g id="b4a3" transform="translate(2461 3382)"><use href="#w"/><text class="s14"><tspan x="0" dy="-2.41em">O5-6 When considering</tspan><tspan x="0" dy="1.38em">trials, O5 first wanted to</tspan><tspan x="0" dy="1.38em">know details of the patient’s</tspan><tspan x="0" dy="1.38em">cancer - primary site, nodal</tspan><tspan x="0" dy="1.38em">staging, and co-morbidities.</tspan></text></g>
<g id="b4a4" transform="translate(2461 3540)"><use href="#w"/><text class="s185"><tspan x="0" dy="-2.41em">O5-30 It would be</tspan><tspan x="0" dy="1.38em">helpful if the system</tspan><tspan x="0" dy="1.38em">could pre-screen for</tspan><tspan x="0" dy="1.38em">staging, status, and</tspan><tspan x="0" dy="1.38em">age.</tspan></text></g>
<g id="b4a5" transform="translate(2461 3697)"><use href="#w"/><text class="s185"><tspan x="0" dy="-1.72em">O4-9 It doesn’t take</tspan><tspan x="0" dy="1.38em">the nurse too long to</tspan><tspan x="0" dy="1.38em">screen the patient, I</tspan><tspan x="0" dy="1.38em">am not involved.</tspan></text></g>
<g id="b4a6" transform="translate(2461 3855)"><use href="#w"/><text class="s13"><tspan x="0" dy="-2.41em">N1-11 There are always some</tspan><tspan x="0" dy="1.38em">standout/key inclusion and</tspan><tspan x="0" dy="1.38em">exclusion criteria that a doctor</tspan><tspan x="0" dy="1.38em">needs to decide whether a</tspan><tspan x="0" dy="1.38em">patient is eligible for a trial.</tspan></text></g>
<g id="b4a7" transform="translate(2461 4013)"><use href="#w"/><text class="s20"><tspan x="0" dy="-1.72em">O5-14 “The best</tspan><tspan x="0" dy="1.38em">value is a system</tspan><tspan x="0" dy="1.38em">that pre-screens</tspan><tspan x="0" dy="1.38em">patients.”</tspan></text></g>
<g id="b4a8" transform="translate(2461 4170)"><use href="#w"/><text class="s155"><tspan x="0" dy="-2.41em">O3-7 It’d be helpful to</tspan><tspan x="0" dy="1.38em">identify if patients could</tspan><tspan x="0" dy="1.38em">pass the prescreen to skip</tspan><tspan x="0" dy="1.38em">the 4 weeks of prescreen</tspan><tspan x="0" dy="1.38em">testing.</tspan></text></g>
<g id="b4a9" transform="translate(2461 4328)"><use href="#w"/><text class="s145"><tspan x="0" dy="-2.41em">N1-14 In the electronic</tspan><tspan x="0" dy="1.38em">medical record, I look at the</tspan><tspan x="0" dy="1.38em">pathology results for the</tspan><tspan x="0" dy="1.38em">patient first and then any</tspan><tspan x="0" dy="1.38em">scans that have been done.</tspan></text></g>
<g id="b4b1" transform="translate(2727 3067)"><use href="#w"/><text class="s13"><tspan x="0" dy="-3.1em">O4-8 I contact the research</tspan><tspan x="0" dy="1.38em">nurse, who goes through the</tspan><tspan x="0" dy="1.38em">screening process in detail</tspan><tspan x="0" dy="1.38em">because I already know that the</tspan><tspan x="0" dy="1.38em">patient would fit general</tspan><tspan x="0" dy="1.38em">requirements.</tspan></text></g>
<g id="b4b2" transform="translate(2727 3225)"><use href="#w"/><text class="s13"><tspan x="0" dy="-3.1em">O1-7. The CRM nurse is</tspan><tspan x="0" dy="1.38em">responsible for sharing</tspan><tspan x="0" dy="1.38em">details of a clinical trial with</tspan><tspan x="0" dy="1.38em">the patient and checking the</tspan><tspan x="0" dy="1.38em">trial criteria with the patient’s</tspan><tspan x="0" dy="1.38em">chart.</tspan></text></g>
<g id="b4b3" transform="translate(2727 3382)"><use href="#w"/><text class="s155"><tspan x="0" dy="-2.41em">N1-13 I screen the patient</tspan><tspan x="0" dy="1.38em">and trial and then tell the</tspan><tspan x="0" dy="1.38em">doctor about the trial and</tspan><tspan x="0" dy="1.38em">give them some brief</tspan><tspan x="0" dy="1.38em">information about it.</tspan></text></g>
<g id="b4b4" transform="translate(2727 3540)"><use href="#w"/><text class="s13"><tspan x="0" dy="-2.41em">O1-10. O1 has never had to</tspan><tspan x="0" dy="1.38em">cross-check clinical trial</tspan><tspan x="0" dy="1.38em">criteria with a patient’s chart.</tspan><tspan x="0" dy="1.38em">This is always done by the</tspan><tspan x="0" dy="1.38em">nurse at UPMC.</tspan></text></g>
<g id="b4b5" transform="translate(2727 3697)"><use href="#w"/><text class="s13"><tspan x="0" dy="-2.41em">O1-8. If the CRM nurse finds</tspan><tspan x="0" dy="1.38em">that all criteria match for a</tspan><tspan x="0" dy="1.38em">patient, O1 will often sign off</tspan><tspan x="0" dy="1.38em">on the trial without double</tspan><tspan x="0" dy="1.38em">checking the criteria.</tspan></text></g>
<g id="b4b6" transform="translate(2727 3855)"><use href="#w"/><text class="s155"><tspan x="0" dy="-2.41em">O3-3 Coordinators</tspan><tspan x="0" dy="1.38em">generally prescreen the</tspan><tspan x="0" dy="1.38em">patient in a timeframe of 4</tspan><tspan x="0" dy="1.38em">weeks to try and get them</tspan><tspan x="0" dy="1.38em">on a CT.</tspan></text></g>
<g id="b4b7" transform="translate(2727 4013)"><use href="#w"/><text class="s14"><tspan x="0" dy="-2.41em">N1-17 I know some exclusion</tspan><tspan x="0" dy="1.38em">criteria that basically</tspan><tspan x="0" dy="1.38em">appears on all clinical trials</tspan><tspan x="0" dy="1.38em">so I remember that</tspan><tspan x="0" dy="1.38em">information in my head.</tspan></text></g>
</g>

<g id="b5">
<g id="b5-h" transform="translate(3290.5 2717)"><use href="#p"/><text class="q24"><tspan x="0" dy="-1.03em">Clinical trial criteria</tspan><tspan x="0" dy="1.38em">becoming more complex,</tspan><tspan x="0" dy="1.38em">detailed, and stringent.</tspan></text></g>
<g id="b5a" transform="translate(3150 2909.5)"><use href="#b"/><text class="s175"><tspan x="0" dy="-1.72em">Trials in the same field</tspan><tspan x="0" dy="1.38em">or center can have</tspan><tspan x="0" dy="1.38em">subtle differences in</tspan><tspan x="0" dy="1.38em">criteria.</tspan></text></g>
<g id="b5b" transform="translate(3416 2909.5)"><use href="#b"/><text class="s155"><tspan x="0" dy="-1.72em">Matching patients with</tspan><tspan x="0" dy="1.38em">trial criteria is becoming</tspan><tspan x="0" dy="1.38em">more complex and</tspan><tspan x="0" dy="1.38em">challenging.</tspan></text></g>
<g id="b5a1" transform="translate(3150 3067)"><use href="#w"/><text class="s145"><tspan x="0" dy="-2.41em">O3-1 Screening patients for</tspan><tspan x="0" dy="1.38em">CT may be slightly different</tspan><tspan x="0" dy="1.38em">depending on the hospital</tspan><tspan x="0" dy="1.38em">even if the criteria is the</tspan><tspan x="0" dy="1.38em">same.</tspan></text></g>
<g id="b5a2" transform="translate(3150 3225)"><use href="#w"/><text class="s15"><tspan x="0" dy="-2.41em">O5-9 O5 decides on a trial</tspan><tspan x="0" dy="1.38em">for a patient based on</tspan><tspan x="0" dy="1.38em">extremely detailed aspects</tspan><tspan x="0" dy="1.38em">of their cancer - e.g. T2 vs.</tspan><tspan x="0" dy="1.38em">T4 neck cancer.</tspan></text></g>
<g id="b5a3" transform="translate(3150 3382)"><use href="#w"/><text class="s165"><tspan x="0" dy="-2.41em">O5-1 Radiation oncology</tspan><tspan x="0" dy="1.38em">trials are highly curated</tspan><tspan x="0" dy="1.38em">and can have subtle</tspan><tspan x="0" dy="1.38em">differences in inclusion</tspan><tspan x="0" dy="1.38em">criteria.</tspan></text></g>
<g id="b5a4" transform="translate(3150 3540)"><use href="#w"/><text class="s145"><tspan x="0" dy="-2.41em">N1-4 Nowadays, the list of</tspan><tspan x="0" dy="1.38em">inclusion criteria is very</tspan><tspan x="0" dy="1.38em">specific for these new drugs</tspan><tspan x="0" dy="1.38em">which means there’s more</tspan><tspan x="0" dy="1.38em">testing for the tumor.</tspan></text></g>
<g id="b5b1" transform="translate(3416 3067)"><use href="#w"/><text class="s16"><tspan x="0" dy="-1.72em">B1-2. It is very difficult</tspan><tspan x="0" dy="1.38em">for patients to read</tspan><tspan x="0" dy="1.38em">through complex criteria</tspan><tspan x="0" dy="1.38em">for clinical trials.</tspan></text></g>
<g id="b5b2" transform="translate(3416 3225)"><use href="#w"/><text class="s15"><tspan x="0" dy="-1.72em">O4-10 Making sure</tspan><tspan x="0" dy="1.38em">people fit criteria for</tspan><tspan x="0" dy="1.38em">trials is difficult; double</tspan><tspan x="0" dy="1.38em">checking is not hard.</tspan></text></g>
<g id="b5b3" transform="translate(3416 3382)"><use href="#w"/><text class="s16"><tspan x="0" dy="-1.72em">O5-12 Requirements for</tspan><tspan x="0" dy="1.38em">a trial often change with</tspan><tspan x="0" dy="1.38em">amendments (e.g. 28</tspan><tspan x="0" dy="1.38em">days to 30 days)</tspan></text></g>
<g id="b5b4" transform="translate(3416 3540)"><use href="#w"/><text class="s175"><tspan x="0" dy="-1.72em">O3-4 Trials are getting</tspan><tspan x="0" dy="1.38em">more specific but</tspan><tspan x="0" dy="1.38em">patients cannot miss any</tspan><tspan x="0" dy="1.38em">of the criteria.</tspan></text></g>
<g id="b5b5" transform="translate(3416 3697)"><use href="#w"/><text class="s16"><tspan x="0" dy="-2.41em">O3-2 Matching criteria is</tspan><tspan x="0" dy="1.38em">not easy as there are</tspan><tspan x="0" dy="1.38em">certain nuances where</tspan><tspan x="0" dy="1.38em">you’ll have to talk to the</tspan><tspan x="0" dy="1.38em">investigator.</tspan></text></g>
<g id="b5b6" transform="translate(3416 3855)"><use href="#w"/><text class="s16"><tspan x="0" dy="-2.41em">O2-11 I am hugely</tspan><tspan x="0" dy="1.38em">incentivized to run trials</tspan><tspan x="0" dy="1.38em">but I can only</tspan><tspan x="0" dy="1.38em">place/approve about</tspan><tspan x="0" dy="1.38em">40-50% of patients.</tspan></text></g>
<g id="b5b7" transform="translate(3416 4013)"><use href="#w"/><text class="s165"><tspan x="0" dy="-2.41em">O2-15 Doctors have no</tspan><tspan x="0" dy="1.38em">standard way of</tspan><tspan x="0" dy="1.38em">documentation and what is</tspan><tspan x="0" dy="1.38em">important in a patient</tspan><tspan x="0" dy="1.38em">record is subjective.</tspan></text></g>
<g id="b5b8" transform="translate(3416 4170)"><use href="#w"/><text class="s155"><tspan x="0" dy="-1.72em">O1-16. It’s rare that O1 is</tspan><tspan x="0" dy="1.38em">comparing multiple trials</tspan><tspan x="0" dy="1.38em">for a patient where</tspan><tspan x="0" dy="1.38em">criteria are all matched.</tspan></text></g>
</g>

<g id="b6">
<g id="b6-h" transform="translate(4235.5 2711.5)"><use href="#p"/><text class="q24"><tspan x="0" dy="-2.41em">It is critical for CRCs to</tspan><tspan x="0" dy="1.38em">be able to access info</tspan><tspan x="0" dy="1.38em">about patients and trials</tspan><tspan x="0" dy="1.38em">quickly, but instead it is</tspan><tspan x="0" dy="1.38em">often inconvenient.</tspan></text></g>
<g id="b6a" transform="translate(3969 2903.5)"><use href="#b"/><text class="s175"><tspan x="0" dy="-1.72em">It's tedious for CRCs to</tspan><tspan x="0" dy="1.38em">obtain a patient's past</tspan><tspan x="0" dy="1.38em">records if they are not</tspan><tspan x="0" dy="1.38em">from their system.</tspan></text></g>
<g id="b6b" transform="translate(4239 2903.5)"><use href="#b"/><text class="s19"><tspan x="0" dy="-1.72em">Accessing information</tspan><tspan x="0" dy="1.38em">CRCs need on the</tspan><tspan x="0" dy="1.38em">floor can be</tspan><tspan x="0" dy="1.38em">inconvenient.</tspan></text></g>
<g id="b6c" transform="translate(4514 2903.5)"><use href="#b"/><text class="s16"><tspan x="0" dy="-1.72em">CRCs need to be able to</tspan><tspan x="0" dy="1.38em">access and review</tspan><tspan x="0" dy="1.38em">information as quickly as</tspan><tspan x="0" dy="1.38em">possible.</tspan></text></g>
<g id="b6a1" transform="translate(3969 3061.5)"><use href="#w"/><text class="s13"><tspan x="0" dy="-3.1em">N3-1 Certain criteria can be</tspan><tspan x="0" dy="1.38em">difficult to screen if the labs</tspan><tspan x="0" dy="1.38em">were not done at UPMC.</tspan><tspan x="0" dy="1.38em">CRMs need to contact</tspan><tspan x="0" dy="1.38em">previous provider and</tspan><tspan x="0" dy="1.38em">obtain records.</tspan></text></g>
<g id="b6a2" transform="translate(3969 3219)"><use href="#w"/><text class="s165"><tspan x="0" dy="-2.41em">O2-13 Nurses often have</tspan><tspan x="0" dy="1.38em">to call to get patient</tspan><tspan x="0" dy="1.38em">records and need certain</tspan><tspan x="0" dy="1.38em">scans and reports to be</tspan><tspan x="0" dy="1.38em">available.</tspan></text></g>
<g id="b6b1" transform="translate(4239 3061.5)"><use href="#w"/><text class="s145"><tspan x="0" dy="-2.41em">N1-18 There are computers</tspan><tspan x="0" dy="1.38em">in the patient room but the</tspan><tspan x="0" dy="1.38em">doctors and medical</tspan><tspan x="0" dy="1.38em">assistants are usually using</tspan><tspan x="0" dy="1.38em">them.</tspan></text></g>
<g id="b6b2" transform="translate(4239 3219)"><use href="#w"/><text class="s15"><tspan x="0" dy="-3.1em">N1-6 We used to have an</tspan><tspan x="0" dy="1.38em">application on a Palm Pilot</tspan><tspan x="0" dy="1.38em">that was very helpful for</tspan><tspan x="0" dy="1.38em">looking up information</tspan><tspan x="0" dy="1.38em">about a patient because it</tspan><tspan x="0" dy="1.38em">was portable.</tspan></text></g>
<g id="b6b3" transform="translate(4239 3377)"><use href="#w"/><text class="s19"><tspan x="0" dy="-1.72em">N1-7 Patients are in</tspan><tspan x="0" dy="1.38em">the clinic but all our</tspan><tspan x="0" dy="1.38em">information is in our</tspan><tspan x="0" dy="1.38em">office.</tspan></text></g>
<g id="b6b4" transform="translate(4239 3534.5)"><use href="#w"/><text class="s155"><tspan x="0" dy="-1.72em">O5-26 The current</tspan><tspan x="0" dy="1.38em">process for finding</tspan><tspan x="0" dy="1.38em">potential trials is manual</tspan><tspan x="0" dy="1.38em">- print out list on paper.</tspan></text></g>
<g id="b6c1" transform="translate(4514 3061.5)"><use href="#w"/><text class="s14"><tspan x="0" dy="-2.41em">N1-9 I want as much</tspan><tspan x="0" dy="1.38em">information as possible at</tspan><tspan x="0" dy="1.38em">my fingertips because time</tspan><tspan x="0" dy="1.38em">spent looking is time wasted</tspan><tspan x="0" dy="1.38em">with the patient.</tspan></text></g>
<g id="b6c2" transform="translate(4514 3219)"><use href="#w"/><text class="s155"><tspan x="0" dy="-2.41em">N1-16 You’re scanning the</tspan><tspan x="0" dy="1.38em">medical records because</tspan><tspan x="0" dy="1.38em">you don’t have much time</tspan><tspan x="0" dy="1.38em">to spend on a patient each</tspan><tspan x="0" dy="1.38em">time.</tspan></text></g>
</g>

<g id="b7">
<g id="b7-h" transform="translate(4954.5 2710)"><use href="#p"/><text class="q24"><tspan x="0" dy="-2.41em">Oncologists &amp; CRMs</tspan><tspan x="0" dy="1.38em">have very limited time,</tspan><tspan x="0" dy="1.38em">so systems must be</tspan><tspan x="0" dy="1.38em">integrated, efficient, and</tspan><tspan x="0" dy="1.38em">easy to use.</tspan></text></g>
<g id="b7a" transform="translate(4952 2902.5)"><use href="#b"/><text class="s20"><tspan x="0" dy="-1.72em">It's important that</tspan><tspan x="0" dy="1.38em">systems oncologists</tspan><tspan x="0" dy="1.38em">use are integrated</tspan><tspan x="0" dy="1.38em">together.</tspan></text></g>
<g id="b7a1" transform="translate(4952 3060)"><use href="#w"/><text class="s135"><tspan x="0" dy="-2.41em">O5-20 Interfacing with</tspan><tspan x="0" dy="1.38em">UPMC’s Pathways platform</tspan><tspan x="0" dy="1.38em">would be helpful and</tspan><tspan x="0" dy="1.38em">prompt physicians to look at</tspan><tspan x="0" dy="1.38em">the list of trials more often.</tspan></text></g>
<g id="b7a2" transform="translate(4952 3218)"><use href="#w"/><text class="s145"><tspan x="0" dy="-2.41em">O5-22 “If it is a 3rd party</tspan><tspan x="0" dy="1.38em">system, nobody will use it.”</tspan><tspan x="0" dy="1.38em">Physicians have enough</tspan><tspan x="0" dy="1.38em">systems to use (EMR,</tspan><tspan x="0" dy="1.38em">Pathways, etc.).</tspan></text></g>
<g id="b7a3" transform="translate(4952 3375)"><use href="#w"/><text class="s155"><tspan x="0" dy="-3.1em">N2-6. N2 nurses believe it</tspan><tspan x="0" dy="1.38em">will be more valuable if a</tspan><tspan x="0" dy="1.38em">new application were</tspan><tspan x="0" dy="1.38em">embedded into existing</tspan><tspan x="0" dy="1.38em">EMRs physicians use or</tspan><tspan x="0" dy="1.38em">Pathways.</tspan></text></g>
<g id="b7a4" transform="translate(4952 3533)"><use href="#w"/><text class="s20"><tspan x="0" dy="-1.72em">O5-25 “It [EXAID]</tspan><tspan x="0" dy="1.38em">should be integrated</tspan><tspan x="0" dy="1.38em">with existing</tspan><tspan x="0" dy="1.38em">systems.”</tspan></text></g>
<g id="b7a5" transform="translate(4952 3690.5)"><use href="#w"/><text class="s14"><tspan x="0" dy="-2.41em">O4-6 Nurses don’t have</tspan><tspan x="0" dy="1.38em">time to screen for clinical</tspan><tspan x="0" dy="1.38em">trials; it’s best if you have</tspan><tspan x="0" dy="1.38em">a person doing only that</tspan><tspan x="0" dy="1.38em">all day.</tspan></text></g>
</g>

<g id="b8">
<g id="b8-wp" transform="translate(5539 2759.5)"><use href="#y"/><text class="h"><tspan x="0" dy="0.35em">Work Process</tspan></text></g>
<g id="b8-tl" transform="translate(5893 2759.5)"><use href="#y"/><text class="h"><tspan x="0" dy="0.35em">Timeline</tspan></text></g>
<g id="b8-ot" transform="translate(6260 2759.5)"><use href="#y"/><text class="h"><tspan x="0" dy="0.35em">Opening Trials</tspan></text></g>
<g id="b8-sg" transform="translate(6642 2759.5)"><use href="#y"/><text class="h"><tspan x="0" dy="0.35em">Suggestions</tspan></text></g>
<g id="wp1" transform="translate(5539 2917.5)"><use href="#w"/><text class="s18"><tspan x="0" dy="-2.41em">N2-4. N2 nurses rely on</tspan><tspan x="0" dy="1.38em">clinical trial</tspan><tspan x="0" dy="1.38em">management</tspan><tspan x="0" dy="1.38em">application once trial</tspan><tspan x="0" dy="1.38em">has started.</tspan></text></g>
<g id="wp2" transform="translate(5539 3075.5)"><use href="#w"/><text class="s19"><tspan x="0" dy="-1.72em">O5-28 O5 will</tspan><tspan x="0" dy="1.38em">occasionally look at</tspan><tspan x="0" dy="1.38em">the charts of patients</tspan><tspan x="0" dy="1.38em">on other days.</tspan></text></g>
<g id="wp3" transform="translate(5539 3233)"><use href="#w"/><text class="s16"><tspan x="0" dy="-2.41em">O1-6. O5 will first share</tspan><tspan x="0" dy="1.38em">general details of a few</tspan><tspan x="0" dy="1.38em">clinical trials with a</tspan><tspan x="0" dy="1.38em">patient, before</tspan><tspan x="0" dy="1.38em">considering the criteria.</tspan></text></g>
<g id="wp4" transform="translate(5539 3391)"><use href="#w"/><text class="s14"><tspan x="0" dy="-2.41em">N1-12 Trial stage, drugs that</tspan><tspan x="0" dy="1.38em">the patient is on, and other</tspan><tspan x="0" dy="1.38em">information needs to be</tspan><tspan x="0" dy="1.38em">matched to the clinical trial</tspan><tspan x="0" dy="1.38em">criteria.</tspan></text></g>
<g id="wp5" transform="translate(5539 3548.5)"><use href="#w"/><text class="s16"><tspan x="0" dy="-2.41em">O1-15. When comparing</tspan><tspan x="0" dy="1.38em">trials, O1 considers</tspan><tspan x="0" dy="1.38em">medications used,</tspan><tspan x="0" dy="1.38em">response rate, and known</tspan><tspan x="0" dy="1.38em">side effects.</tspan></text></g>
<g id="wp6" transform="translate(5539 3706)"><use href="#w"/><text class="s18"><tspan x="0" dy="-1.72em">N1-5 Patients may</tspan><tspan x="0" dy="1.38em">have to get multiple</tspan><tspan x="0" dy="1.38em">biopsies if they get</tspan><tspan x="0" dy="1.38em">rejected from a trial.</tspan></text></g>
<g id="wp7" transform="translate(5539 3864)"><use href="#w"/><text class="s155"><tspan x="0" dy="-2.41em">O6-15 I don’t feel</tspan><tspan x="0" dy="1.38em">pressured to make sure</tspan><tspan x="0" dy="1.38em">that patients stay at UPMC</tspan><tspan x="0" dy="1.38em">because quotas are not</tspan><tspan x="0" dy="1.38em">given for trials.</tspan></text></g>
<g id="tl1" transform="translate(5893 2917.5)"><use href="#w"/><text class="s165"><tspan x="0" dy="-1.72em">O1-9. If a patient</tspan><tspan x="0" dy="1.38em">successfully matches a</tspan><tspan x="0" dy="1.38em">trial, it will typically</tspan><tspan x="0" dy="1.38em">begin in 1-4 weeks.</tspan></text></g>
<g id="tl2" transform="translate(5893 3075.5)"><use href="#w"/><text class="s135"><tspan x="0" dy="-3.1em">P1-8. A visit to the oncologist</tspan><tspan x="0" dy="1.38em">takes ~2 hours including</tspan><tspan x="0" dy="1.38em">vitals, blood work, possibly</tspan><tspan x="0" dy="1.38em">talking to a PA, and</tspan><tspan x="0" dy="1.38em">speaking with the</tspan><tspan x="0" dy="1.38em">oncologist.</tspan></text></g>
<g id="ot1" transform="translate(6260 2917.5)"><use href="#w"/><text class="s145"><tspan x="0" dy="-3.1em">O5-3 Opening a new trial is</tspan><tspan x="0" dy="1.38em">an interdisciplinary effort</tspan><tspan x="0" dy="1.38em">and can involve engaging</tspan><tspan x="0" dy="1.38em">with companies and</tspan><tspan x="0" dy="1.38em">research on the patient</tspan><tspan x="0" dy="1.38em">population.</tspan></text></g>
<g id="ot2" transform="translate(6260 3075.5)"><use href="#w"/><text class="s14"><tspan x="0" dy="-2.41em">O5-4 It would be helpful if</tspan><tspan x="0" dy="1.38em">there was an application that</tspan><tspan x="0" dy="1.38em">provided a list of trials</tspan><tspan x="0" dy="1.38em">appropriate to each center</tspan><tspan x="0" dy="1.38em">based on patient registry.</tspan></text></g>
<g id="ot3" transform="translate(6260 3233)"><use href="#w"/><text class="s145"><tspan x="0" dy="-2.41em">O6-5 The number of clinical</tspan><tspan x="0" dy="1.38em">trials vary from cancer to</tspan><tspan x="0" dy="1.38em">cancer; some clinical trials</tspan><tspan x="0" dy="1.38em">are “catch-all” and cover a</tspan><tspan x="0" dy="1.38em">wider range.</tspan></text></g>
<g id="ot4" transform="translate(6260 3391)"><use href="#w"/><text class="s175"><tspan x="0" dy="-1.03em">O5-5 RadOncologists</tspan><tspan x="0" dy="1.38em">want to know what trials</tspan><tspan x="0" dy="1.38em">can be opened quickly.</tspan></text></g>
<g id="ot5" transform="translate(6260 3548.5)"><use href="#w"/><text class="s14"><tspan x="0" dy="-2.41em">O6-3 Trials take very long to</tspan><tspan x="0" dy="1.38em">open, so by the time one</tspan><tspan x="0" dy="1.38em">opens, another has probably</tspan><tspan x="0" dy="1.38em">reached enrollment and will</tspan><tspan x="0" dy="1.38em">be closed.</tspan></text></g>
<g id="sg1" transform="translate(6642 2917.5)"><use href="#w"/><text class="s19"><tspan x="0" dy="-2.41em">O1-17. Melanoma is a</tspan><tspan x="0" dy="1.38em">cancer with a large</tspan><tspan x="0" dy="1.38em">number of trials - the</tspan><tspan x="0" dy="1.38em">app may be more useful</tspan><tspan x="0" dy="1.38em">for this.</tspan></text></g>
<g id="sg2" transform="translate(6642 3075.5)"><use href="#w"/><text class="s14"><tspan x="0" dy="-2.41em">O1-11. Categorization of</tspan><tspan x="0" dy="1.38em">clinical trial criteria is not</tspan><tspan x="0" dy="1.38em">important to O1 since all</tspan><tspan x="0" dy="1.38em">have to be reviewed</tspan><tspan x="0" dy="1.38em">anyways.</tspan></text></g>
</g>

</g>
</svg>
